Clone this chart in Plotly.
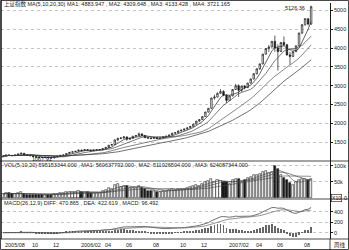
import plotly.graph_objects as go
import pandas as pd

# ---- data (weekly, Aug 2005 .. Aug 2007) ----
opens = [1110,1130,1160,1150,1140,1160,1185,1205,1165,1155,1140,1120,1100,1095,1090,1100,1085,1080,1110,1130,1150,1161,
         1200,1230,1245,1258,1290,1280,1300,1290,1270,1290,1295,1299,1330,1360,1420,1440,
         1560,1600,1610,1640,1580,1600,1660,1672,1720,
         1680,1620,1610,1600,1620,1600,1610,1640,1660,1690,1740,1752,
         1800,1820,1850,1880,1920,1980,2060,2100,
         2180,2300,2400,2675,
         2700,2800,2850,2750,2610,2730,2900,3000,2880,
         2990,2950,3070,3180,3320,3450,3580,3840,
         3990,4030,4180,4000,
         3910,4150,4090,3820,3780,3910,4060,
         4400,4620,4780,4640]
highs = [1135,1165,1175,1160,1165,1190,1223,1210,1175,1160,1145,1125,1110,1105,1110,1105,1095,1115,1135,1155,1165,1205,
         1235,1250,1265,1300,1300,1310,1305,1295,1295,1300,1305,1335,1365,1425,1445,1570,
         1620,1630,1665,1650,1610,1665,1690,1757,1730,
         1690,1635,1625,1630,1630,1620,1645,1665,1695,1745,1760,1805,
         1830,1855,1885,1925,1985,2065,2110,2190,
         2310,2410,2680,2760,
         2820,2910,2880,2770,2740,2910,3050,3040,3000,
         3020,3080,3190,3330,3460,3590,3850,4000,
         4080,4190,4335,4100,
         4160,4311,4110,3900,3920,4070,4410,
         4640,4800,4790,5126.36]
lows = [1105,1125,1145,1130,1135,1155,1180,1160,1150,1130,1115,1095,1085,1080,1085,1080,1067.91,1075,1105,1125,1140,1160,
        1195,1225,1240,1255,1270,1275,1280,1260,1265,1280,1285,1295,1325,1355,1410,1440,
        1530,1580,1600,1540,1560,1595,1650,1665,1670,
        1610,1590,1580,1595,1585,1590,1605,1630,1650,1685,1730,1745,
        1790,1810,1840,1870,1910,1975,2040,2090,
        2170,2290,2390,2630,
        2690,2780,2720,2540,2600,2720,2890,2700,2830,
        2900,2940,3060,3170,3300,3420,3570,3830,
        3900,4020,3900,3404,
        3900,4050,3800,3563,3760,3890,4050,
        4380,4600,4600,4620]
closes = [1130,1160,1150,1140,1160,1185,1205,1165,1155,1140,1120,1100,1095,1090,1100,1085,1080,1110,1130,1150,1161,1200,
          1230,1245,1258,1290,1280,1300,1290,1270,1290,1295,1299,1330,1360,1420,1440,1560,
          1600,1610,1640,1580,1600,1660,1672,1720,1680,
          1620,1610,1600,1620,1600,1610,1640,1660,1690,1740,1752,1800,
          1820,1850,1880,1920,1980,2060,2100,2180,
          2300,2400,2675,2700,
          2800,2850,2750,2610,2730,2900,3000,2880,2990,
          2950,3070,3180,3320,3450,3580,3840,3990,
          4030,4180,4000,3910,
          4150,4090,3820,3780,3910,4060,4400,
          4620,4780,4640,5100]
volumes = [12000,16000,14000,11000,12000,15000,18000,13000,10000,9000,9500,9000,8500,8000,9000,8500,9500,12000,13000,14000,13500,17000,
           19000,18000,17000,20000,19000,18000,17000,15000,16000,15500,16000,20000,24000,30000,28000,40000,
           42000,35000,36000,38000,30000,32000,31000,36000,30000,
           26000,22000,20000,21000,19000,18000,21000,22000,25000,28000,24000,27000,
           28000,26000,29000,33000,36000,40000,38000,42000,
           48000,52000,58000,50000,
           56000,52000,48000,50000,42000,55000,58000,60000,50000,
           55000,62000,66000,70000,72000,74000,80000,85000,
           78000,82000,98000,90000,
           70000,62000,55000,45000,40000,48000,56000,
           58000,60000,55000,59515]

tick_idx = [0, 9, 16, 25, 33, 40, 49, 58, 65, 74, 83, 90, 99]
tick_text = ["2005/08", "10", "12", "2006/02", "04", "06", "08", "10", "12", "2007/02", "04", "06", "08"]

price_ticks = [1500, 2000, 2500, 3000, 3500, 4000, 4500, 5000]
vol_ticks = [50000, 100000]
macd_ticks = [0, 200, 400]

title_price = "上证指数 MA(5,10,20,30) MA1: 4883.947 , MA2: 4309.648 , MA3: 4133.428 , MA4: 3721.165"
title_vol = "VOL(5,10,20) 595153344.000 , MA1: 560637792.000 , MA2: 511026504.000 , MA3: 624087344.000"
title_macd = "MACD(26,12,9) DIFF: 470.865 , DEA: 422.619 , MACD: 96.492"

# ---- derived indicators ----
x = list(range(len(closes)))
c = pd.Series(closes, dtype=float)
v = pd.Series(volumes, dtype=float)
ma = {n: c.rolling(n, min_periods=1).mean() for n in (5, 10, 20, 30)}
vma = {n: v.rolling(n, min_periods=1).mean() for n in (5, 10, 20)}
ema12 = c.ewm(span=12, adjust=False).mean()
ema26 = c.ewm(span=26, adjust=False).mean()
diff = ema12 - ema26
dea = diff.ewm(span=9, adjust=False).mean()
macd = 2 * (diff - dea)

W, H = 349, 250
ML, MR = 1, 19
PW = W - ML - MR


def xp(px):
    return (px - ML) / PW


def yp(py):
    return 1 - py / H


FONT = "Liberation Sans, Arial, Noto Sans CJK SC"
INK = "#1a1a1a"

fig = go.Figure()
fig.add_trace(go.Candlestick(
    x=x, open=opens, high=highs, low=lows, close=closes,
    increasing=dict(line=dict(color=INK, width=0.7), fillcolor="white"),
    decreasing=dict(line=dict(color=INK, width=0.7), fillcolor=INK),
    whiskerwidth=0, xaxis="x", yaxis="y", hoverinfo="skip", showlegend=False))
ma_cols = {5: "#222", 10: "#444", 20: "#555", 30: "#333"}
for n in (5, 10, 20, 30):
    fig.add_trace(go.Scatter(x=x, y=ma[n], mode="lines", line=dict(color=ma_cols[n], width=0.7),
                             xaxis="x", yaxis="y", hoverinfo="skip", showlegend=False))

vcol = ["white" if cl >= op else INK for op, cl in zip(opens, closes)]
fig.add_trace(go.Bar(x=x, y=volumes, width=0.7, marker=dict(color=vcol, line=dict(color=INK, width=0.6)),
                     xaxis="x2", yaxis="y2", hoverinfo="skip", showlegend=False))
for n in (5, 10, 20):
    fig.add_trace(go.Scatter(x=x, y=vma[n], mode="lines", line=dict(color="#444", width=0.6),
                             xaxis="x2", yaxis="y2", hoverinfo="skip", showlegend=False))

fig.add_trace(go.Bar(x=x, y=macd, width=0.3, marker=dict(color="#666", line=dict(width=0)),
                     xaxis="x3", yaxis="y3", hoverinfo="skip", showlegend=False))
fig.add_trace(go.Scatter(x=x, y=diff, mode="lines", line=dict(color="#333", width=0.7),
                         xaxis="x3", yaxis="y3", hoverinfo="skip", showlegend=False))
fig.add_trace(go.Scatter(x=x, y=dea, mode="lines", line=dict(color="#666", width=0.7),
                         xaxis="x3", yaxis="y3", hoverinfo="skip", showlegend=False))

r0 = -0.66
r1 = r0 + 330 / 3.03
xcommon = dict(range=[r0, r1], showticklabels=False, showgrid=False, zeroline=False,
               showline=False, ticks="", fixedrange=True)
ycommon = dict(side="right", showgrid=True, gridcolor="#c4c4c4", griddash="dot", gridwidth=0.6,
               ticks="outside", ticklen=2, tickwidth=0.6, tickcolor=INK, zeroline=False,
               showline=True, linecolor=INK, linewidth=0.8,
               tickfont=dict(size=5.5, color=INK, family=FONT), fixedrange=True)

fig.update_layout(
    width=W, height=H, margin=dict(l=ML, r=MR, t=0, b=0),
    paper_bgcolor="white", plot_bgcolor="white", showlegend=False, bargap=0,
    xaxis=dict(domain=[0, 1], anchor="y", rangeslider=dict(visible=False), **xcommon),
    xaxis2=dict(domain=[0, 1], anchor="y2", matches="x", **xcommon),
    xaxis3=dict(domain=[0, 1], anchor="y3", matches="x", **xcommon),
    yaxis=dict(domain=[yp(161), yp(3)], range=[1000, 1000 + 158 / 0.03763], tickvals=price_ticks,
               anchor="x", **ycommon),
    yaxis2=dict(domain=[yp(199), yp(161)], range=[-4000, 115000], tickvals=vol_ticks, anchor="x2", **ycommon),
    yaxis3=dict(domain=[yp(239), yp(199)], range=[-120, 642], tickvals=macd_ticks, anchor="x3", **ycommon),
)

shapes = []
for py in (161, 199, 239):
    shapes.append(dict(type="line", xref="paper", yref="paper", x0=xp(0), x1=xp(349), y0=yp(py), y1=yp(py),
                       line=dict(color=INK, width=0.8)))
shapes.append(dict(type="rect", xref="paper", yref="paper", x0=xp(0.5), x1=xp(348.5), y0=yp(249.5), y1=yp(0.5),
                   line=dict(color=INK, width=0.8)))
shapes.append(dict(type="line", xref="paper", yref="paper", x0=xp(1.5), x1=xp(1.5), y0=yp(239), y1=yp(0),
                   line=dict(color=INK, width=0.8)))
shapes.append(dict(type="line", xref="paper", yref="paper", x0=xp(330), x1=xp(330), y0=yp(250), y1=yp(239),
                   line=dict(color=INK, width=0.8)))
fig.update_layout(shapes=shapes)

ann = []
def txt(s, x, y, xref="paper", yref="paper", xanchor="left", size=5.5, **kw):
    ann.append(dict(text=s, x=x, y=y, xref=xref, yref=yref, xanchor=xanchor, yanchor="middle",
                    showarrow=False, font=dict(size=size, color=INK, family=FONT), **kw))

txt(title_price, xp(2), yp(4))
txt(title_vol, xp(2), yp(164.5))
txt(title_macd, xp(2), yp(202.5))
for i, t in zip(tick_idx, tick_text):
    txt(t, i, yp(245), xref="x3")
txt("5126.36", 100.8, 5060, xref="x", yref="y", xanchor="right")
txt("1067.91", 13, 1045, xref="x", yref="y", xanchor="center")
txt("X10", xp(331), yp(197.5), bordercolor=INK, borderwidth=0.6, borderpad=0.5, size=5)
txt("0", xp(342), yp(197.5), size=5.5)
txt("周线", xp(332), yp(245), size=5.5)
fig.update_layout(annotations=ann)

fig.write_html("out.html")
